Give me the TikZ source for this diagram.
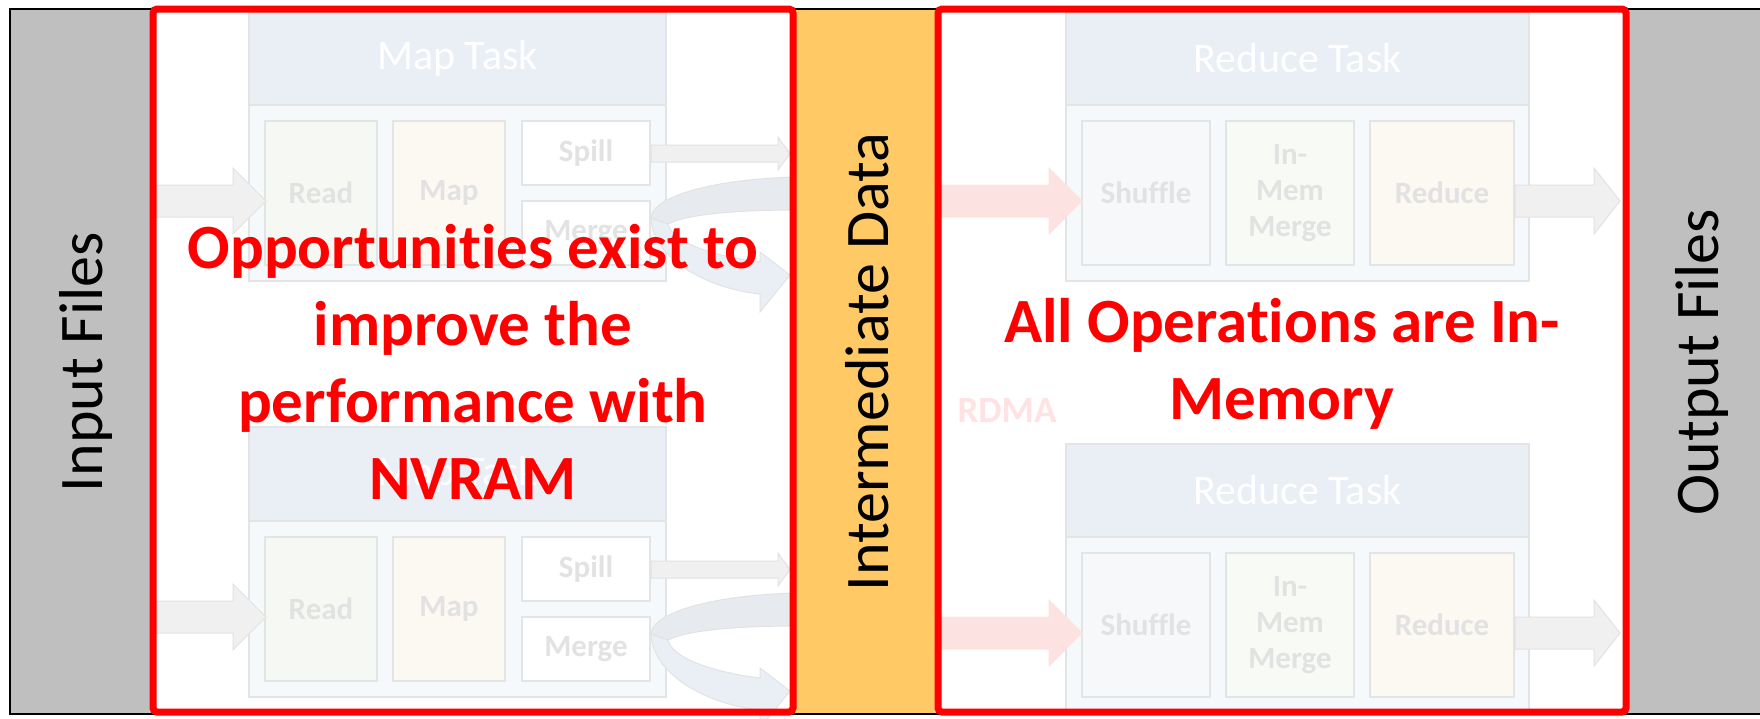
\documentclass[tikz,border=0pt]{standalone}
\usepackage{fontspec}
\setmainfont{Carlito}[Ligatures={NoCommon,NoContextual}]
\newcommand\nolig{\kern0pt }
\definecolor{colgray}{RGB}{191,191,191}
\definecolor{gold}{RGB}{255,202,102}
\definecolor{hdrfill}{RGB}{234,239,246}
\definecolor{bodyfill}{RGB}{246,249,251}
\definecolor{fadeline}{RGB}{226,228,230}
\definecolor{readfill}{RGB}{246,249,243}
\definecolor{mapfill}{RGB}{252,248,242}
\definecolor{shufflefill}{RGB}{247,248,250}
\definecolor{immfill}{RGB}{248,250,245}
\definecolor{fadetext}{RGB}{226,226,226}
\definecolor{arrowgray}{RGB}{240,240,240}
\definecolor{arrowline}{RGB}{226,226,226}
\definecolor{pinkfill}{RGB}{253,226,226}
\definecolor{rdmacol}{RGB}{255,226,226}
\definecolor{ringback}{RGB}{231,234,238}
\definecolor{ringfront}{RGB}{234,239,246}
\newcommand\tbox[7]{\node[#1,minimum width={#4-#2},minimum height={#5-#3}] (#6) at ({(#2+#4)/2},{(#3+#5)/2}) {#7};}
\newcommand\barrow[7]{\filldraw[#1] (#2,{#5-#6}) -- (#3,{#5-#6}) -- (#3,{#5-#7}) -- (#4,#5) -- (#3,{#5+#7}) -- (#3,{#5+#6}) -- (#2,{#5+#6}) -- cycle;}
\newcommand\ringarrow[1]{%
\begin{scope}[shift={(0,#1)}]
\filldraw[ringbackst] (796,177) .. controls (715,179) and (652,196) .. (651,218) -- (668,224) .. controls (690,213) and (745,210) .. (796,210) -- cycle;
\filldraw[ringfrontst] (651,218) .. controls (653,258) and (705,288) .. (760,294) -- (760,312) -- (790,275) -- (760,252) -- (760,262) .. controls (712,256) and (672,242) .. (668,224) -- cycle;
\end{scope}}
\begin{document}
\begin{tikzpicture}[x=1pt,y=-1pt,
  hdr/.style={draw=fadeline,line width=1.5pt,fill=hdrfill,inner sep=0pt,outer sep=0pt,text=white,font=\fontsize{42}{50}\selectfont},
  bodyst/.style={draw=fadeline,line width=1.5pt,fill=bodyfill,inner sep=0pt,outer sep=0pt},
  stagebox/.style={draw=fadeline,line width=1.5pt,inner sep=0pt,outer sep=0pt,text=fadetext,font=\bfseries\fontsize{31}{36}\selectfont,align=center},
  grayarrow/.style={fill=arrowgray,draw=arrowline,line width=1pt},
  pinkarrow/.style={fill=pinkfill,draw=pinkfill,line width=1pt},
  ringbackst/.style={fill=ringback,draw=arrowline,line width=1pt},
  ringfrontst/.style={fill=ringfront,draw=arrowline,line width=1pt},
  redbox/.style={draw=red,line width=7pt,rounded corners=4pt},
  bigred/.style={text=red,font=\bfseries\fontsize{63}{77}\selectfont,align=center,inner sep=0pt},
  collabel/.style={font=\fontsize{62}{70}\selectfont,text=black,rotate=90,inner sep=0pt},
  framest/.style={draw=black,line width=2pt}]
\useasboundingbox (0,0) rectangle (1760,718);
\fill[white] (0,0) rectangle (1760,718);

% ---------- Map task 1 ----------
\tbox{bodyst}{249}{105}{666}{281}{mb1}{}
\tbox{hdr}{249}{12}{666}{105}{mh1}{Map Task}
\tbox{stagebox,fill=readfill}{265}{121}{377}{265}{rd1}{Read}
\tbox{stagebox,fill=mapfill}{393}{121}{505}{265}{mp1}{Map}
\tbox{stagebox,fill=white}{522}{121}{650}{185}{sp1}{Spill}
\tbox{stagebox,fill=white}{522}{201}{650}{265}{mg1}{Merge}
% ---------- Map task 2 ----------
\tbox{bodyst}{249}{521}{666}{697}{mb2}{}
\tbox{hdr}{249}{427}{666}{521}{mh2}{Map Task}
\tbox{stagebox,fill=readfill}{265}{537}{377}{681}{rd2}{Read}
\tbox{stagebox,fill=mapfill}{393}{537}{505}{681}{mp2}{Map}
\tbox{stagebox,fill=white}{522}{537}{650}{601}{sp2}{Spill}
\tbox{stagebox,fill=white}{522}{617}{650}{681}{mg2}{Merge}
% ---------- Reduce task 1 ----------
\tbox{bodyst}{1066}{105}{1529}{281}{rb1}{}
\tbox{hdr}{1066}{12}{1529}{105}{rh1}{Reduce Task}
\tbox{stagebox,fill=shufflefill}{1082}{121}{1210}{265}{sh1}{Shuffle}
\tbox{stagebox,fill=immfill}{1226}{121}{1354}{265}{im1}{In-\\Mem\\Merge}
\tbox{stagebox,fill=mapfill}{1370}{121}{1514}{265}{re1}{Reduce}
% ---------- Reduce task 2 ----------
\tbox{bodyst}{1066}{537}{1529}{713}{rb2}{}
\tbox{hdr}{1066}{444}{1529}{537}{rh2}{Reduce Task}
\tbox{stagebox,fill=shufflefill}{1082}{553}{1210}{697}{sh2}{Shuffle}
\tbox{stagebox,fill=immfill}{1226}{553}{1354}{697}{im2}{In-\\Mem\\Merge}
\tbox{stagebox,fill=mapfill}{1370}{553}{1514}{697}{re2}{Reduce}

% ---------- faded block arrows ----------
\barrow{grayarrow}{150}{233}{266}{201}{16}{33}
\barrow{grayarrow}{150}{233}{266}{617}{16}{33}
\barrow{grayarrow}{651}{778}{790}{153.5}{8.5}{16.5}
\barrow{grayarrow}{651}{778}{790}{569.5}{8.5}{16.5}
\ringarrow{0}
\ringarrow{416}
\barrow{pinkarrow}{938}{1049}{1082}{201}{16}{33}
\barrow{pinkarrow}{938}{1049}{1082}{633}{16}{33}
\barrow{grayarrow}{1515}{1594}{1620}{201}{16}{33}
\barrow{grayarrow}{1515}{1594}{1620}{633}{16}{33}
\node[text=rdmacol,font=\bfseries\fontsize{37}{40}\selectfont,inner sep=0pt] (rdma) at (1007,410) {RDMA};

% ---------- columns ----------
\fill[colgray] (10,9) rectangle (153,714);
\fill[colgray] (1626,9) rectangle (1760,714);
\fill[gold] (793,9) rectangle (938,714);
\draw[framest] (1761,9) -- (10,9) -- (10,714) -- (1761,714);

\node[collabel] (inp) at (86,362) {Input Files};
\node[collabel] (mid) at (867,362) {Intermediate Data};
\node[collabel] (out) at (1702,362) {Output Files};

% ---------- red highlight boxes ----------
\draw[redbox] (153,9) rectangle (793,712);
\draw[redbox] (938,9) rectangle (1626,712);
\node[bigred] (t1) at (473,362) {Opportunit\nolig ies exist to\\improve the\\performance with\\NVRAM};
\node[bigred] (t2) at (1282,364) {All Operat\nolig ions are In-\\Memory};
\end{tikzpicture}
\end{document}
